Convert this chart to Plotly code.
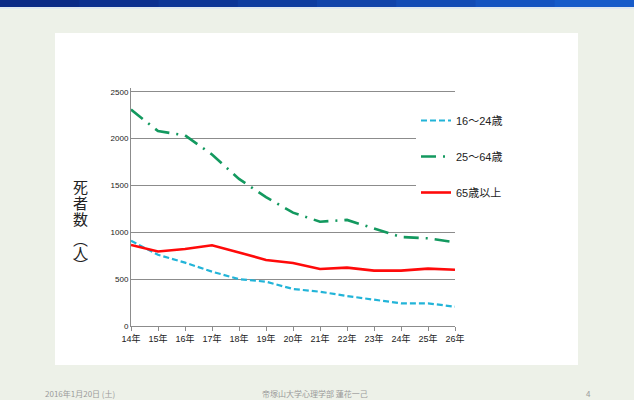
import plotly.graph_objects as go

# Fiscal years (Heisei) on the x axis
years = ["14年", "15年", "16年", "17年", "18年", "19年", "20年",
         "21年", "22年", "23年", "24年", "25年", "26年"]

# Deaths by age group
age_16_24 = [910, 760, 676, 580, 500, 473, 395, 366, 320, 280, 242, 242, 206]
age_25_64 = [2310, 2080, 2035, 1830, 1570, 1375, 1210, 1113, 1132, 1045, 950, 936, 894]
age_65_up = [865, 795, 822, 862, 785, 705, 672, 609, 623, 591, 591, 612, 601]

series_names = ["16～24歳", "25～64歳", "65歳以上"]
y_ticks = [0, 500, 1000, 1500, 2000, 2500]

# vertical axis title, one glyph per row
y_title_chars = ["死", "者", "数", "︵", "人", "︶"]

TICK_FONT = "Liberation Sans, Noto Sans CJK JP, sans-serif"
CJK_FONT = "Noto Sans CJK JP, sans-serif"

fig = go.Figure()
fig.add_trace(go.Scatter(
    x=years, y=age_16_24, name=series_names[0], mode="lines",
    legendgroup="a",
    line=dict(color="#22b4d8", width=2.2, dash="6px,3px")))
fig.add_trace(go.Scatter(
    x=years, y=age_25_64, name=series_names[1], mode="lines",
    legendgroup="b",
    line=dict(color="#13995f", width=2.6, dash="15px,7px,2px,7px")))
fig.add_trace(go.Scatter(
    x=years, y=age_65_up, name=series_names[2], mode="lines",
    legendgroup="c",
    line=dict(color="#ff0a0a", width=2.6)))

W, H = 634, 400
L, R, T, B = 131, 179, 88, 74
pw, ph = W - L - R, H - T - B


def px_x(x):
    return (x - L) / pw


def px_y(y):
    return (H - B - y) / ph


shapes = []
# slide body card
shapes.append(dict(type="rect", xref="paper", yref="paper", layer="below",
                   x0=px_x(55), x1=px_x(578), y0=px_y(365), y1=px_y(33),
                   fillcolor="white", line=dict(width=0)))
# title band across the top of the slide, dark to light blue
band = ["#0a2a86", "#0b2f8f", "#0c3596", "#0e3c9f", "#1043aa",
        "#124bb5", "#1453c0", "#165bc9"]
seg = W / len(band)
for i, c in enumerate(band):
    shapes.append(dict(type="rect", xref="paper", yref="paper", layer="below",
                       x0=px_x(i * seg), x1=px_x((i + 1) * seg + 1),
                       y0=px_y(7), y1=px_y(0),
                       fillcolor=c, line=dict(width=0)))
shapes.append(dict(type="rect", xref="paper", yref="paper", layer="below",
                   x0=px_x(0), x1=px_x(W), y0=px_y(9), y1=px_y(7),
                   fillcolor="#dfe8f0", line=dict(width=0)))

annotations = []
title_rows = [186, 202, 218, 238, 252, 264]
for ch, yy in zip(y_title_chars, title_rows):
    annotations.append(dict(
        text=ch, xref="paper", yref="paper", x=px_x(80), y=px_y(yy),
        xanchor="center", yanchor="middle", showarrow=False,
        font=dict(family=CJK_FONT, size=15, color="#222222")))

footer_font = dict(family=CJK_FONT, size=8, color="#9a9a9a")
annotations += [
    dict(text="2016年1月20日 (土)", xref="paper", yref="paper",
         x=px_x(80), y=px_y(393), xanchor="center", yanchor="middle",
         showarrow=False, font=footer_font),
    dict(text="帝塚山大学心理学部 蓮花一己", xref="paper", yref="paper",
         x=px_x(315), y=px_y(393), xanchor="center", yanchor="middle",
         showarrow=False, font=footer_font),
    dict(text="4", xref="paper", yref="paper",
         x=px_x(588), y=px_y(393), xanchor="center", yanchor="middle",
         showarrow=False, font=footer_font),
]

fig.update_layout(
    width=W, height=H,
    margin=dict(l=L, r=R, t=T, b=B),
    paper_bgcolor="#edf1e8",
    plot_bgcolor="rgba(0,0,0,0)",
    shapes=shapes,
    annotations=annotations,
    showlegend=True,
    legend=dict(
        x=px_x(416), y=px_y(106), xanchor="left", yanchor="top",
        bgcolor="white", borderwidth=0, tracegroupgap=17,
        itemwidth=30,
        font=dict(family=TICK_FONT, size=11, color="#222222")),
    xaxis=dict(
        type="category", range=[0, 12],
        showline=True, linecolor="#8c8c8c", linewidth=1,
        ticks="outside", ticklen=4, tickcolor="#8c8c8c",
        showgrid=False, zeroline=False,
        tickfont=dict(family=TICK_FONT, size=9, color="#222222")),
    yaxis=dict(
        range=[0, 2540], tickvals=y_ticks,
        showline=True, linecolor="#8c8c8c", linewidth=1,
        showgrid=True, gridcolor="#8c8c8c", gridwidth=1,
        ticks="", zeroline=False,
        tickfont=dict(family=TICK_FONT, size=8, color="#222222")),
)

fig.write_html("out.html")
